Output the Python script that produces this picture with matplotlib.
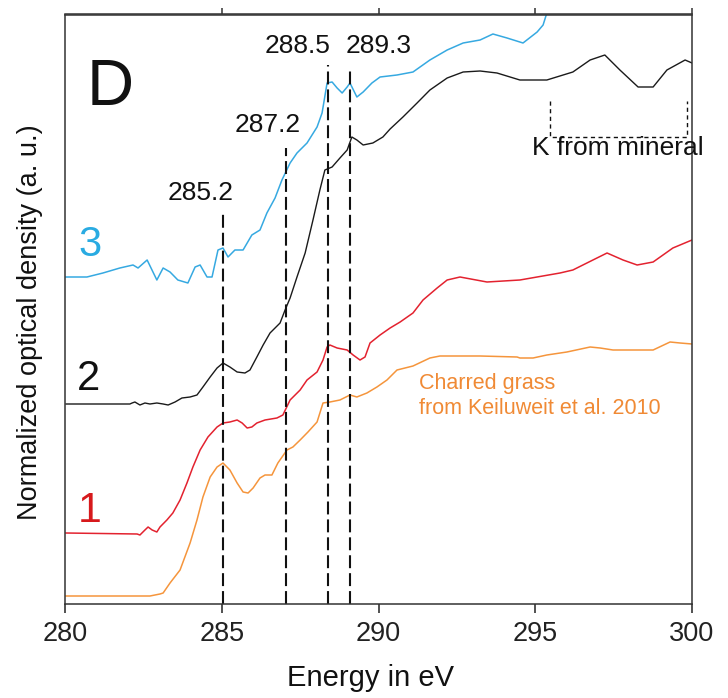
import matplotlib
matplotlib.use("Agg")
import matplotlib.pyplot as plt

plt.rcParams['font.family'] = ['Liberation Sans', 'DejaVu Sans']

# ---- data (energy in eV, normalized optical density, arbitrary offset units) ----
orange_E = [280.03, 282.71, 283.03, 283.13, 283.35, 283.67, 283.99, 284.21, 284.40, 284.63,
            284.85, 285.04, 285.26, 285.49, 285.68, 285.84, 286.00, 286.22, 286.38, 286.60,
            286.79, 287.08, 287.27, 287.50, 287.75, 288.04, 288.23, 288.45, 288.77, 289.09,
            289.31, 289.63, 289.95, 290.27, 290.59, 291.10, 291.64, 291.96, 293.24, 294.42,
            294.51, 294.93, 295.37, 296.01, 296.75, 297.07, 297.48, 298.76, 299.30, 299.62, 300.00]
orange_I = [0.08, 0.08, 0.10, 0.11, 0.21, 0.34, 0.61, 0.84, 1.07, 1.27,
            1.37, 1.41, 1.34, 1.21, 1.12, 1.11, 1.16, 1.26, 1.29, 1.29,
            1.41, 1.54, 1.57, 1.64, 1.72, 1.82, 2.01, 2.02, 2.04, 2.09,
            2.07, 2.11, 2.17, 2.24, 2.34, 2.38, 2.46, 2.48, 2.48, 2.47,
            2.46, 2.46, 2.49, 2.52, 2.57, 2.56, 2.54, 2.54, 2.62, 2.61, 2.60]

red_E = [280.03, 282.30, 282.39, 282.55, 282.65, 282.78, 282.93, 283.03, 283.25, 283.44,
         283.67, 283.89, 284.08, 284.31, 284.56, 284.85, 285.04, 285.26, 285.49, 285.65,
         285.81, 285.96, 286.12, 286.38, 286.76, 286.95, 287.18, 287.50, 287.72, 288.04,
         288.23, 288.36, 288.45, 288.68, 289.00, 289.19, 289.41, 289.57, 289.73, 290.05,
         290.37, 290.69, 291.10, 291.42, 291.87, 292.19, 292.60, 293.46, 294.51, 295.79,
         296.20, 296.84, 297.29, 297.80, 298.25, 298.76, 299.39, 300.00]
red_I = [0.71, 0.70, 0.69, 0.74, 0.77, 0.74, 0.72, 0.77, 0.84, 0.91,
         1.04, 1.21, 1.37, 1.54, 1.67, 1.77, 1.81, 1.82, 1.84, 1.81,
         1.76, 1.77, 1.81, 1.84, 1.86, 1.89, 2.04, 2.14, 2.24, 2.32,
         2.44, 2.57, 2.59, 2.56, 2.54, 2.49, 2.44, 2.47, 2.61, 2.69,
         2.76, 2.82, 2.91, 3.04, 3.16, 3.24, 3.27, 3.22, 3.24, 3.31,
         3.34, 3.44, 3.51, 3.44, 3.39, 3.42, 3.56, 3.64]

black_E = [280.03, 282.07, 282.14, 282.23, 282.39, 282.55, 282.71, 282.93, 283.13, 283.29,
           283.51, 283.73, 283.99, 284.21, 284.40, 284.63, 284.85, 285.04, 285.26, 285.49,
           285.74, 285.90, 286.12, 286.32, 286.54, 286.86, 287.02, 287.18, 287.40, 287.66,
           287.91, 288.13, 288.29, 288.52, 288.77, 289.00, 289.15, 289.31, 289.51, 289.82,
           290.14, 290.37, 290.78, 291.23, 291.64, 292.19, 292.70, 293.24, 293.78, 294.51,
           295.37, 296.20, 296.75, 297.22, 297.70, 298.28, 298.76, 299.20, 299.78, 300.00]
black_I = [2.00, 2.00, 2.01, 2.02, 1.99, 2.01, 2.00, 2.01, 2.00, 1.99,
           2.02, 2.06, 2.07, 2.09, 2.17, 2.27, 2.36, 2.41, 2.37, 2.32,
           2.31, 2.34, 2.47, 2.59, 2.71, 2.81, 2.94, 3.06, 3.27, 3.51,
           3.84, 4.14, 4.34, 4.37, 4.46, 4.54, 4.67, 4.64, 4.59, 4.61,
           4.67, 4.75, 4.87, 5.01, 5.14, 5.26, 5.32, 5.33, 5.31, 5.24,
           5.24, 5.32, 5.44, 5.49, 5.34, 5.17, 5.17, 5.34, 5.44, 5.41]

blue_E = [280.03, 280.70, 281.21, 281.75, 282.17, 282.33, 282.62, 282.93, 283.13, 283.35,
          283.60, 283.92, 284.15, 284.31, 284.53, 284.69, 284.88, 285.04, 285.20, 285.42,
          285.68, 285.96, 286.22, 286.44, 286.70, 286.92, 287.18, 287.40, 287.72, 288.04,
          288.20, 288.36, 288.52, 288.68, 288.84, 289.00, 289.09, 289.31, 289.51, 289.79,
          290.05, 290.59, 291.10, 291.64, 292.19, 292.70, 293.24, 293.65, 294.10, 294.61,
          295.06, 295.25, 295.37, 295.47]
blue_I = [3.27, 3.27, 3.31, 3.36, 3.39, 3.36, 3.44, 3.24, 3.36, 3.32,
          3.24, 3.21, 3.37, 3.39, 3.27, 3.27, 3.54, 3.56, 3.47, 3.54,
          3.54, 3.69, 3.74, 3.91, 4.06, 4.24, 4.41, 4.51, 4.61, 4.77,
          4.91, 5.21, 5.22, 5.16, 5.11, 5.17, 5.21, 5.07, 5.12, 5.21,
          5.27, 5.29, 5.32, 5.44, 5.54, 5.61, 5.64, 5.70, 5.66, 5.61,
          5.72, 5.79, 5.91, 6.04]

peak_positions = [285.05, 287.04, 288.38, 289.08]
peak_tops = [3.94, 4.56, 5.39, 5.34]
peak_labels = ["285.2", "287.2", "288.5", "289.3"]
peak_label_x = [284.33, 286.48, 287.43, 290.00]
peak_label_y = [4.11, 4.79, 5.58, 5.58]

x_ticks = [280, 285, 290, 295, 300]

# ---- figure ----
fig = plt.figure(figsize=(7.28, 6.98), dpi=100)
ax = fig.add_axes([65 / 728, 1 - 604 / 698, (692 - 65) / 728, (604 - 14.5) / 698])

c_orange = '#f5953c'
c_red = '#e3222f'
c_black = '#1a1a1a'
c_blue = '#36a9e1'

ax.plot(orange_E, orange_I, color=c_orange, lw=1.1)
ax.plot(red_E, red_I, color=c_red, lw=1.1)
ax.plot(black_E, black_I, color=c_black, lw=1.0)
ax.plot(blue_E, blue_I, color=c_blue, lw=1.1)

for xp, yt in zip(peak_positions, peak_tops):
    ax.plot([xp, xp], [0, yt], color='#111111', lw=1.5, dashes=(6.2, 2.4))
for lx, ly, txt in zip(peak_label_x, peak_label_y, peak_labels):
    ax.text(lx, ly, txt, fontsize=19, ha='center', va='center', color='#111111')

# K from mineral bracket
ax.plot([295.47, 295.47, 299.84, 299.84], [5.03, 4.67, 4.67, 5.03],
        color='#111111', lw=1.0, dashes=(3, 2.5))
ax.text(294.90, 4.56, "K from mineral", fontsize=19, ha='left', va='center',
        color='#111111', clip_on=False)

ax.text(291.29, 2.21, "Charred grass", fontsize=15.5, ha='left', va='center', color='#f08a35')
ax.text(291.29, 1.96, "from Keiluweit et al. 2010", fontsize=15.5, ha='left', va='center',
        color='#f08a35')

ax.text(281.45, 5.155, "D", fontsize=47, ha='center', va='center', color='#111111')
ax.text(280.80, 3.59, "3", fontsize=30, ha='center', va='center', color='#29abe2')
ax.text(280.75, 2.25, "2", fontsize=30, ha='center', va='center', color='#111111')
ax.text(280.78, 0.93, "1", fontsize=31, ha='center', va='center', color='#d7191c')

ax.set_xlim(280, 300)
ax.set_ylim(0, 5.895)
ax.set_xticks(x_ticks)
ax.set_xticklabels([str(t) for t in x_ticks])
ax.set_yticks([])
ax.tick_params(axis='x', direction='out', length=6.5, width=1.1, labelsize=19.5,
               pad=6, colors='#222222')
for s in ax.spines.values():
    s.set_linewidth(1.1)
    s.set_color('#333333')

sec = ax.secondary_xaxis('top')
sec.set_xticks(x_ticks[1:])
sec.set_xticklabels([])
sec.tick_params(axis='x', direction='out', length=4.5, width=1.1, colors='#333333')
sec.spines['top'].set_linewidth(1.1)
sec.spines['top'].set_color('#333333')

fig.text(370.5 / 728, 1 - 678 / 698, "Energy in eV", fontsize=21, ha='center', va='center',
         color='#111111')
fig.text(30 / 728, 1 - 322 / 698, "Normalized optical density (a. u.)", fontsize=19.5,
         rotation=90, ha='center', va='center', color='#111111')

fig.savefig("out.png", dpi=100)
